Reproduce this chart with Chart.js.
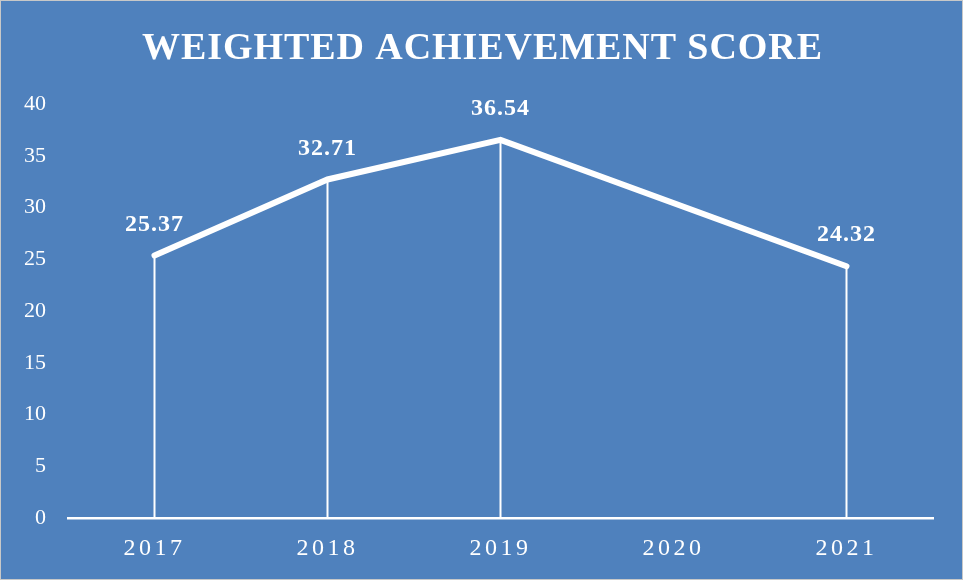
<!DOCTYPE html>
<html>
<head>
<meta charset="utf-8">
<script src="https://cdn.jsdelivr.net/npm/chart.js@4/dist/chart.umd.min.js"></script>
<style>
  html, body { margin: 0; padding: 0; background: #4F81BD; }
  #wrap { width: 963px; height: 580px; position: relative; }
</style>
</head>
<body>
<div id="wrap"><canvas id="c" width="963" height="580"></canvas></div>
<script>
const titleText = 'WEIGHTED ACHIEVEMENT SCORE';
const categories = ['2017', '2018', '2019', '2020', '2021'];
const scores = [25.37, 32.71, 36.54, null, 24.32];
const yMin = 0, yMax = 40, yStep = 5;

const bgColor = '#4F81BD';
const serif = "'Liberation Serif', 'DejaVu Serif', serif";

const bgPlugin = {
  id: 'bg',
  beforeDraw(chart) {
    const ctx = chart.ctx;
    ctx.save();
    ctx.fillStyle = bgColor;
    ctx.fillRect(0, 0, chart.width, chart.height);
    ctx.restore();
  },
  afterLayout(chart) {
    const sx = chart.scales.x;
    if (!sx._lsPatched) {
      const orig = sx.drawLabels;
      sx.drawLabels = function (ca) {
        const ctx = this.ctx;
        ctx.save();
        ctx.letterSpacing = '3.5px';
        orig.call(this, ca);
        ctx.restore();
      };
      sx._lsPatched = true;
    }
  },
  afterDraw(chart) {
    const ctx = chart.ctx;
    ctx.save();
    // title
    ctx.font = 'bold 38px ' + serif;
    ctx.fillStyle = '#FFFFFF';
    ctx.textBaseline = 'alphabetic';
    ctx.textAlign = 'left';
    ctx.letterSpacing = '0px';
    const w0 = ctx.measureText(titleText).width;
    const targetW = 680;
    const ls = Math.max(0, (targetW - w0) / (titleText.length - 1));
    ctx.letterSpacing = ls + 'px';
    ctx.fillText(titleText, 142, 59);
    ctx.restore();
    // border
    ctx.save();
    ctx.strokeStyle = '#C8C8C8';
    ctx.lineWidth = 1;
    ctx.strokeRect(0.5, 0.5, chart.width - 1, chart.height - 1);
    ctx.restore();
  }
};

const dropLinePlugin = {
  id: 'dropLines',
  beforeDatasetsDraw(chart) {
    const ctx = chart.ctx;
    const meta = chart.getDatasetMeta(0);
    const y0 = chart.scales.y.getPixelForValue(0);
    ctx.save();
    ctx.strokeStyle = '#FFFFFF';
    ctx.lineWidth = 2;
    meta.data.forEach((pt, i) => {
      if (scores[i] == null) return;
      ctx.beginPath();
      ctx.moveTo(pt.x, pt.y);
      ctx.lineTo(pt.x, y0);
      ctx.stroke();
    });
    ctx.restore();
  },
  afterDatasetsDraw(chart) {
    const ctx = chart.ctx;
    const meta = chart.getDatasetMeta(0);
    ctx.save();
    ctx.font = 'bold 24px ' + serif;
    ctx.fillStyle = '#FFFFFF';
    ctx.textAlign = 'center';
    ctx.textBaseline = 'middle';
    ctx.letterSpacing = '1px';
    meta.data.forEach((pt, i) => {
      if (scores[i] == null) return;
      ctx.fillText(scores[i].toFixed(2), pt.x, pt.y - 31);
    });
    ctx.restore();
  }
};

new Chart(document.getElementById('c'), {
  type: 'line',
  data: {
    labels: categories,
    datasets: [{
      data: scores,
      borderColor: '#FFFFFF',
      borderWidth: 6,
      borderCapStyle: 'round',
      borderJoinStyle: 'miter',
      pointRadius: 0,
      pointHoverRadius: 0,
      tension: 0,
      spanGaps: true,
      fill: false
    }]
  },
  options: {
    responsive: false,
    animation: false,
    devicePixelRatio: 1,
    layout: { padding: { top: 104, right: 30, bottom: 0, left: 0 } },
    plugins: {
      legend: { display: false },
      title: { display: false },
      tooltip: { enabled: false }
    },
    scales: {
      x: {
        offset: true,
        grid: { display: false, drawTicks: false },
        border: { display: true, color: '#FFFFFF', width: 2.5 },
        ticks: {
          color: '#FFFFFF',
          font: { family: serif, size: 24 },
          padding: 16,
          maxRotation: 0
        },
        afterFit(scale) { scale.height = 62; }
      },
      y: {
        min: yMin,
        max: yMax,
        grid: { display: false, drawTicks: false },
        border: { display: false },
        ticks: {
          stepSize: yStep,
          color: '#FFFFFF',
          font: { family: serif, size: 22 },
          padding: 22
        },
        afterFit(scale) { scale.width = 68; }
      }
    }
  },
  plugins: [bgPlugin, dropLinePlugin]
});
</script>
</body>
</html>
